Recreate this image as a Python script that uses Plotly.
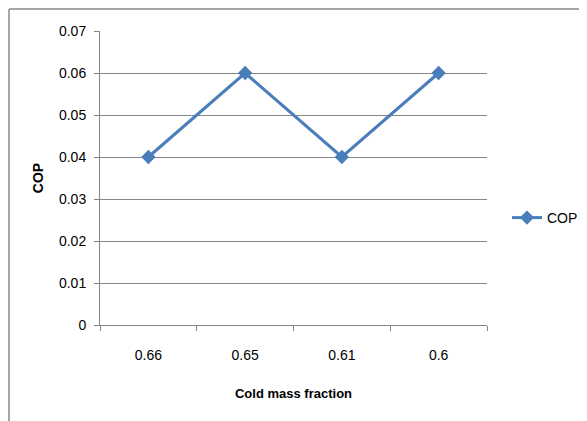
import plotly.graph_objects as go

categories = ["0.66", "0.65", "0.61", "0.6"]
cop_values = [0.04, 0.06, 0.04, 0.06]
y_ticks = [0, 0.01, 0.02, 0.03, 0.04, 0.05, 0.06, 0.07]
y_tick_labels = ["0", "0.01", "0.02", "0.03", "0.04", "0.05", "0.06", "0.07"]

# page offset of the figure inside the browser (body margin)
OX, OY = 8, 7
W, H = 587 - OX, 421 - OY
L, T = 100 - OX, 30 - OY
pw, ph = 387, 294
R, B = W - L - pw, H - T - ph

color = "#4A7EBB"
fig = go.Figure()
fig.add_trace(go.Scatter(
    x=categories, y=cop_values, mode="lines+markers", name="COP",
    line=dict(color=color, width=3),
    marker=dict(symbol="diamond", size=11, color=color),
))

font = "Liberation Sans, Arial"
fig.update_layout(
    width=W, height=H,
    margin=dict(l=L, r=R, t=T, b=B, autoexpand=False),
    paper_bgcolor="white", plot_bgcolor="white",
    font=dict(family=font, size=14, color="#000"),
    showlegend=True,
    legend=dict(x=(507 - 100) / pw, y=(324 - 217) / ph, xanchor="left", yanchor="middle",
                font=dict(size=14, family=font), bgcolor="rgba(0,0,0,0)", itemwidth=30),
    xaxis=dict(
        type="category", showgrid=False, showline=True, linecolor="#868686", linewidth=1,
        ticks="outside", tickson="boundaries", ticklen=5, tickcolor="#868686",
        tickfont=dict(size=14), range=[-0.5, 3.5], ticklabelstandoff=17,
        title=dict(text="<b>Cold mass fraction</b>", font=dict(size=13), standoff=27),
    ),
    yaxis=dict(
        range=[0, 0.07], tickvals=y_ticks, ticktext=y_tick_labels,
        showgrid=True, gridcolor="#868686", gridwidth=1,
        showline=True, linecolor="#868686", linewidth=1,
        ticks="outside", ticklen=5, tickcolor="#868686",
        tickfont=dict(size=14), zeroline=False, ticklabelstandoff=5,
        title=dict(text="<b>COP</b>", font=dict(size=14), standoff=12),
    ),
)

# outer chart-area border (top and left edges visible)
fig.add_shape(type="line", xref="paper", yref="paper",
              x0=(1 - L) / pw, x1=(W + 5 - L) / pw,
              y0=(ph + T - 1) / ph, y1=(ph + T - 1) / ph,
              line=dict(color="#888888", width=1.5))
fig.add_shape(type="line", xref="paper", yref="paper",
              x0=(1 - L) / pw, x1=(1 - L) / pw,
              y0=(ph + T - 1) / ph, y1=-(B + 10) / ph,
              line=dict(color="#888888", width=1.5))

fig.write_html("out.html")
